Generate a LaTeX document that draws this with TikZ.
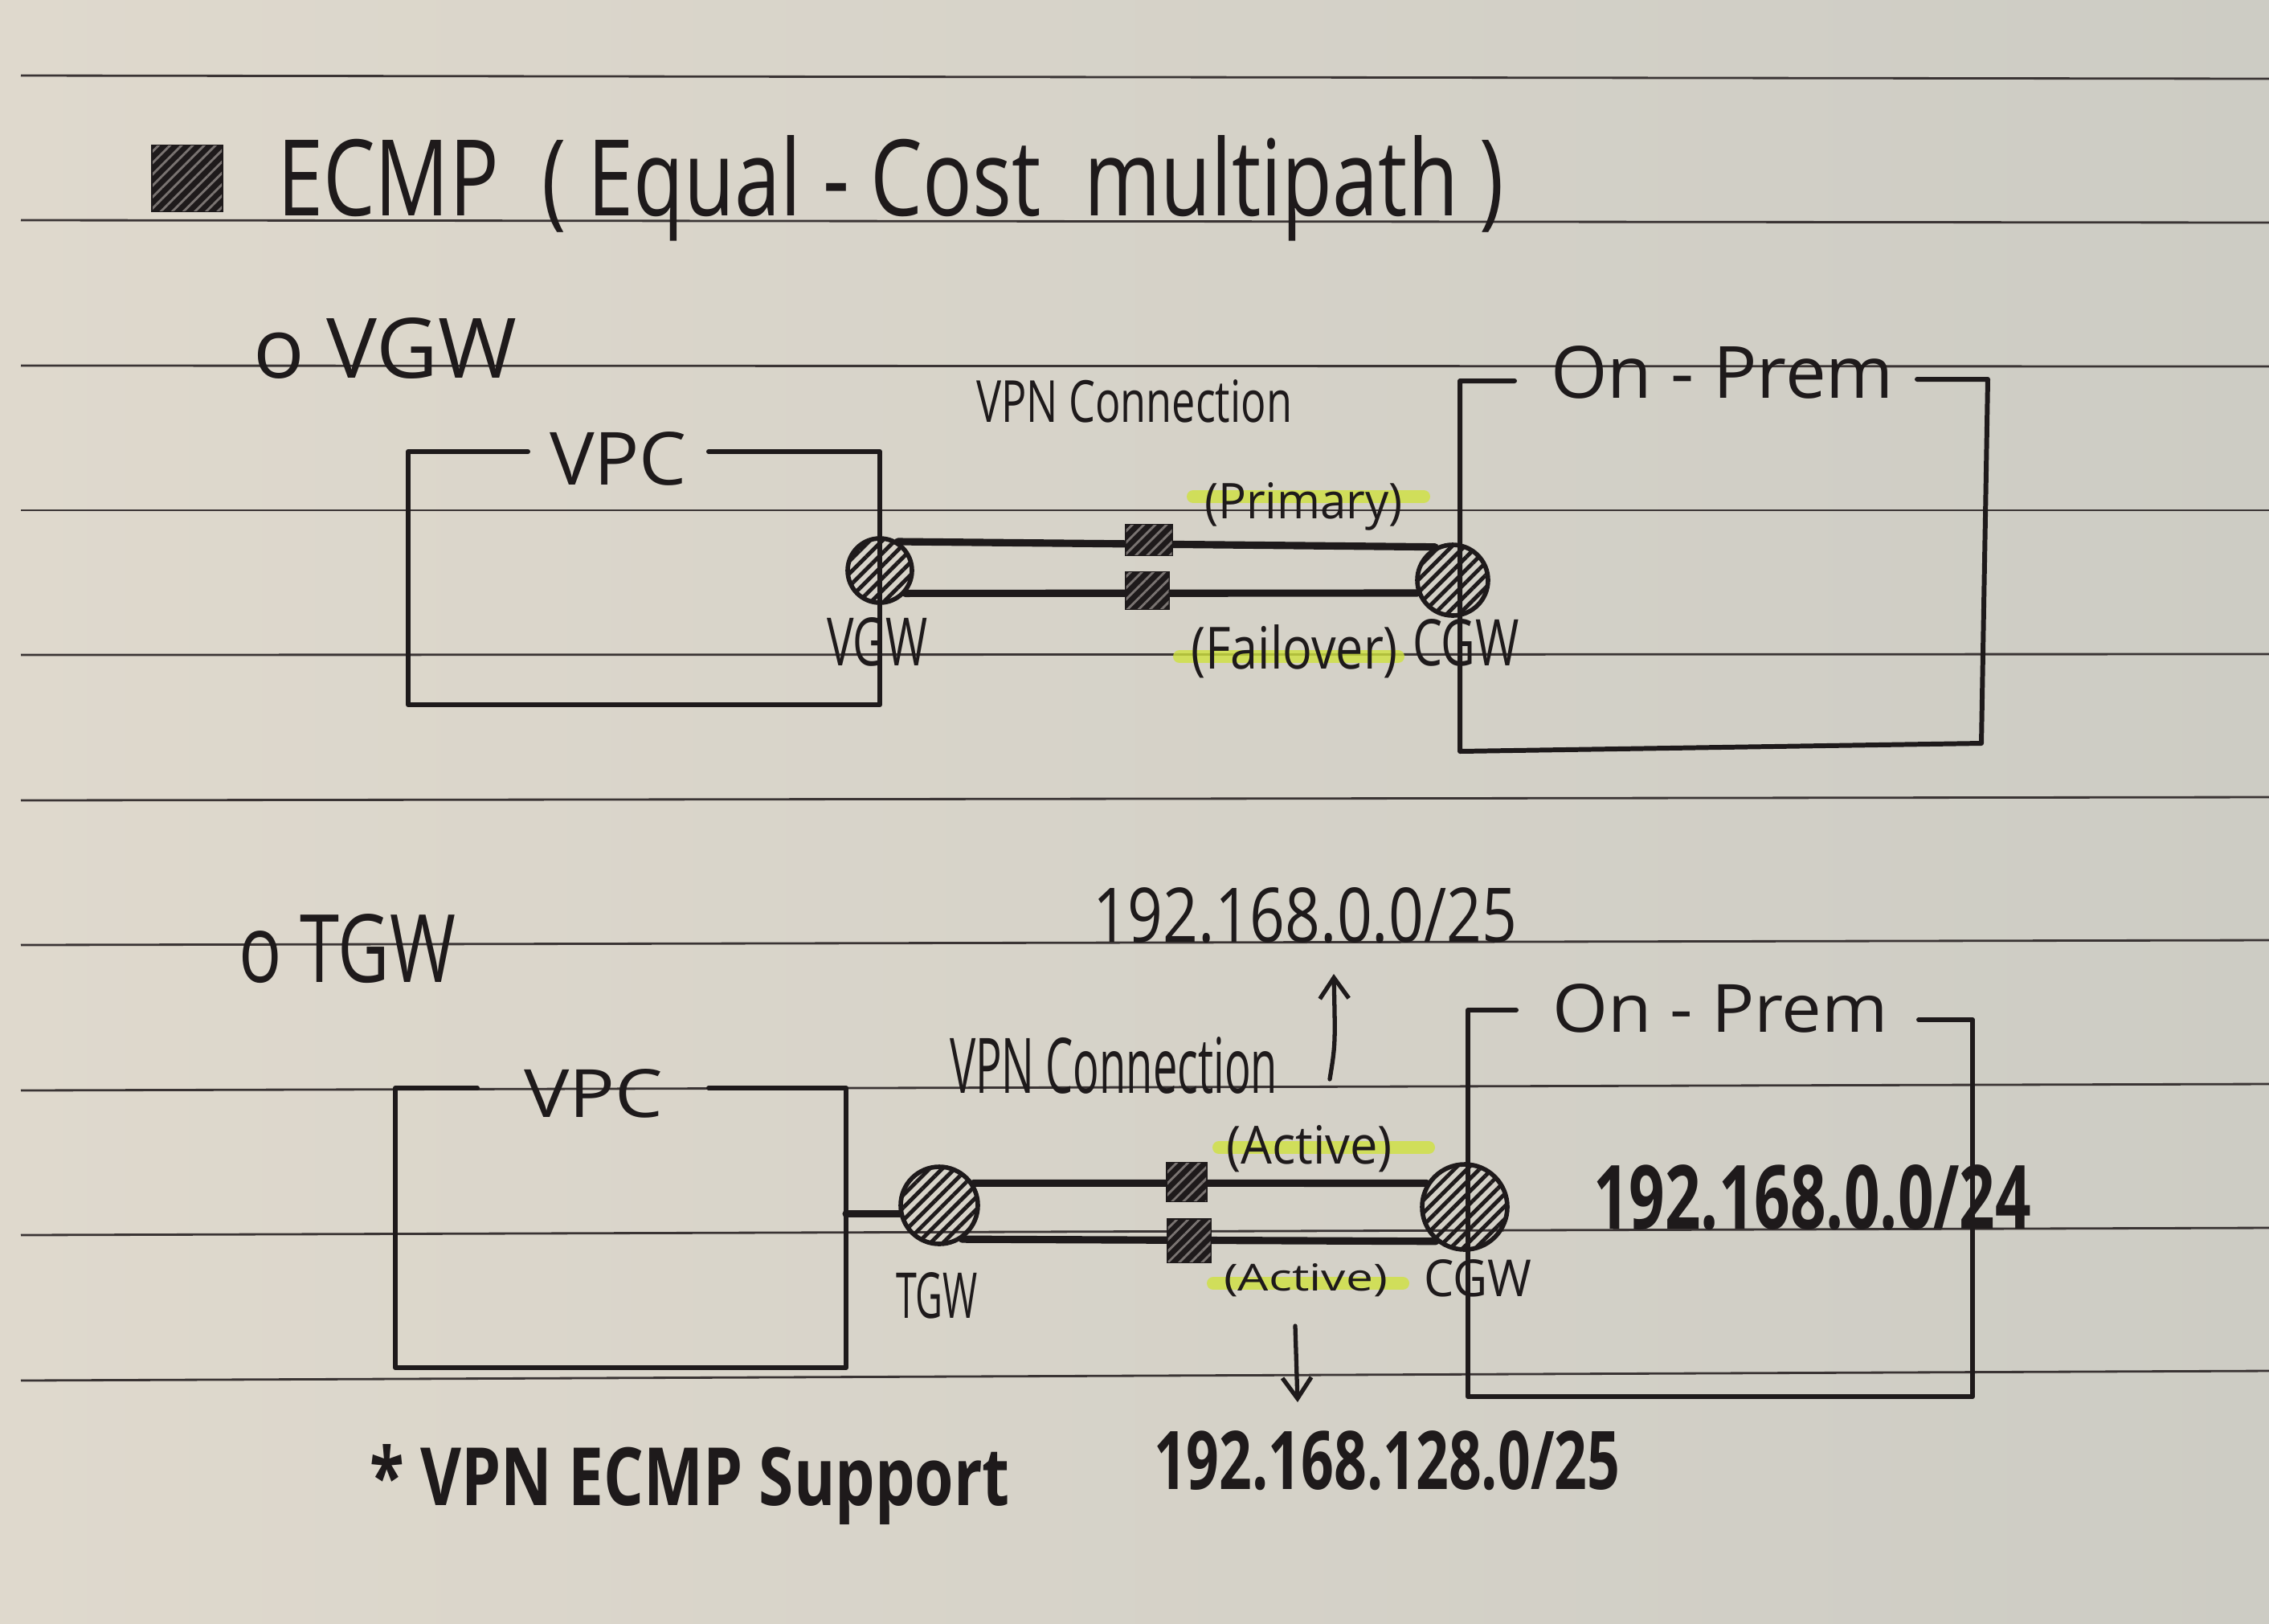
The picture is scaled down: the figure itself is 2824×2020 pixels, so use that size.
\documentclass[tikz,border=0pt]{standalone}
\usepackage{graphicx}
\usepackage{fontspec}
\setmainfont{Open Sans}
\usetikzlibrary{patterns.meta,arrows.meta}
\definecolor{ink}{HTML}{1E1A1B}
\definecolor{paperL}{HTML}{DFD9CD}
\definecolor{paperR}{HTML}{CDCCC4}
\definecolor{rulec}{HTML}{3A3434}
\definecolor{hlc}{HTML}{CFE23F}
\definecolor{hatchlight}{HTML}{7A7472}
\newlength{\pxu}\setlength{\pxu}{0.01cm}
\newcommand{\hw}[3]{\resizebox{#1\pxu}{#2\pxu}{#3}}
\begin{document}
\begin{tikzpicture}[x=0.01cm,y=-0.01cm,
  rule/.style={draw=rulec,line width=0.8pt},
  boxline/.style={draw=ink,line width=1.7pt,line join=round,line cap=round},
  link/.style={draw=ink,line width=2.6pt,line cap=round},
  hl/.style={draw=hlc,line width=0.16cm,line cap=round,opacity=0.8},
  txt/.style={anchor=base west,inner sep=0pt,outer sep=0pt,text=ink},
  gw/.style={circle,draw=ink,line width=1.6pt,inner sep=0pt,
    pattern={Lines[angle=45,distance=0.11cm,line width=1.4pt]},pattern color=ink},
  tun/.style={rectangle,draw=ink,line width=1pt,inner sep=0pt,fill=ink,
    postaction={pattern={Lines[angle=45,distance=0.1cm,line width=0.8pt]},pattern color=hatchlight}},
  arr/.style={draw=ink,line width=1.5pt,line cap=round,-{Straight Barb[length=0.26cm,width=0.36cm,line width=1.5pt]}}
]
\useasboundingbox (0,0) rectangle (2824,2020);
\shade[left color=paperL,right color=paperR] (0,0) rectangle (2824,2020);
% ruled lines
\foreach \yl/\yr in {94/98,274/277,455/456,635/635,815/814,996/992,1176/1170,1357/1349,1537/1528,1718/1706}
  \draw[rule] (26,\yl) -- (2824,\yr);

% highlights
\draw[hl] (1485,618) -- (1772,618);
\draw[hl] (1468,817) -- (1740,817);
\draw[hl] (1517,1428) -- (1778,1428);
\draw[hl] (1510,1597) -- (1746,1597);

% title
\node[tun,minimum width=86\pxu,minimum height=81\pxu] (tsq) at (233,222) {};
\node[txt] (title) at (345,268) {\hw{1527}{100}{ECMP~~(~Equal~-~Cost~~multipath~)}};

% ===== VGW section =====
\node[txt] (hvgw) at (315,470) {\hw{328}{75}{o VGW}};
% VPC box 1
\coordinate (v1tl) at (508,562);
\coordinate (v1tr) at (1095,562);
\coordinate (v1bl) at (508,877);
\coordinate (v1br) at (1095,877);
\draw[boxline] (657,562) -- (v1tl) -- (v1bl) -- (v1br) -- (v1tr) -- (882,562);
\node[txt] (vpc1) at (684,603) {\hw{171}{66}{VPC}};
% On-Prem box 1
\coordinate (o1tl) at (1817,474);
\coordinate (o1tr) at (2474,472);
\coordinate (o1bl) at (1817,935);
\coordinate (o1br) at (2466,925);
\draw[boxline] (1885,474) -- (o1tl) -- (o1bl) -- (o1br) -- (o1tr) -- (2386,472);
\node[txt] (op1) at (1930,495) {\hw{427}{65}{On - Prem}};
\node[txt] (vpn1) at (1215,525) {\hw{393}{53}{VPN Connection}};
\node[txt] (prim) at (1499,645) {\hw{247}{45}{(Primary)}};
\node[txt] (fail) at (1482,832) {\hw{258}{55}{(Failover)}};
\node[txt] (lvgw) at (1029,828) {\hw{126}{60}{VGW}};
\node[txt] (lcgw1) at (1758,828) {\hw{133}{58}{CGW}};
% gateways
\node[gw,minimum size=80\pxu] (vgw) at (1095,710) {};
\node[gw,minimum size=88\pxu] (cgw1) at (1808,722) {};
\draw[link] (vgw.58) -- (cgw1.118);
\draw[link] (vgw.-42) -- (cgw1.200);
\node[tun,minimum width=57\pxu,minimum height=37\pxu] (t1a) at (1430,672) {};
\node[tun,minimum width=53\pxu,minimum height=45\pxu] (t1b) at (1428,735) {};

% ===== TGW section =====
\node[txt] (htgw) at (297,1222) {\hw{270}{85}{o TGW}};
\node[txt] (net25) at (1360,1172) {\hw{528}{68}{192.168.0.0/25}};
\coordinate (upstart) at (1655,1343);
\coordinate (uptip) at (1660,1212);
\draw[arr] (upstart) .. controls (1662,1300) .. (uptip);
% VPC box 2
\coordinate (v2tl) at (492,1354);
\coordinate (v2tr) at (1053,1354);
\coordinate (v2bl) at (492,1702);
\coordinate (v2br) at (1053,1702);
\draw[boxline] (594,1354) -- (v2tl) -- (v2bl) -- (v2br) -- (v2tr) -- (882,1354);
\node[txt] (vpc2) at (652,1390) {\hw{173}{60}{VPC}};
\node[txt] (vpn2) at (1182,1360) {\hw{408}{70}{VPN Connection}};
% On-Prem box 2
\coordinate (o2tl) at (1827,1257);
\coordinate (o2tr) at (2455,1269);
\coordinate (o2bl) at (1827,1738);
\coordinate (o2br) at (2455,1738);
\draw[boxline] (1887,1257) -- (o2tl) -- (o2bl) -- (o2br) -- (o2tr) -- (2388,1269);
\node[txt] (op2) at (1932,1284) {\hw{418}{60}{On - Prem}};
\node[txt] (net24) at (1983,1529) {\hw{545}{80}{\bfseries 192.168.0.0/24}};
\node[txt] (act1) at (1526,1448) {\hw{207}{48}{(Active)}};
\node[txt] (act2) at (1523,1606) {\hw{204}{34}{(Active)}};
\node[txt] (ltgw) at (1115,1640) {\hw{102}{57}{TGW}};
\node[txt] (lcgw2) at (1772,1613) {\hw{134}{46}{CGW}};
% gateways
\node[gw,minimum size=96\pxu] (tgw) at (1169,1500) {};
\node[gw,minimum size=106\pxu] (cgw2) at (1823,1502) {};
\draw[link] (v2tr |- tgw.192) -- (tgw.192);
\draw[link] (tgw.33) -- (cgw2.148);
\draw[link] (tgw.-56) -- (cgw2.230);
\node[tun,minimum width=48\pxu,minimum height=47\pxu] (t2a) at (1477,1471) {};
\node[tun,minimum width=53\pxu,minimum height=52\pxu] (t2b) at (1480,1544) {};
\coordinate (dnstart) at (1612,1650);
\coordinate (dntip) at (1615,1745);
\draw[arr] (dnstart) -- (dntip);
\node[txt] (net128) at (1436,1853) {\hw{580}{73}{\bfseries 192.168.128.0/25}};
\node[txt] (ecmp) at (460,1873) {\hw{797}{76}{\bfseries * VPN ECMP Support}};
\end{tikzpicture}
\end{document}
